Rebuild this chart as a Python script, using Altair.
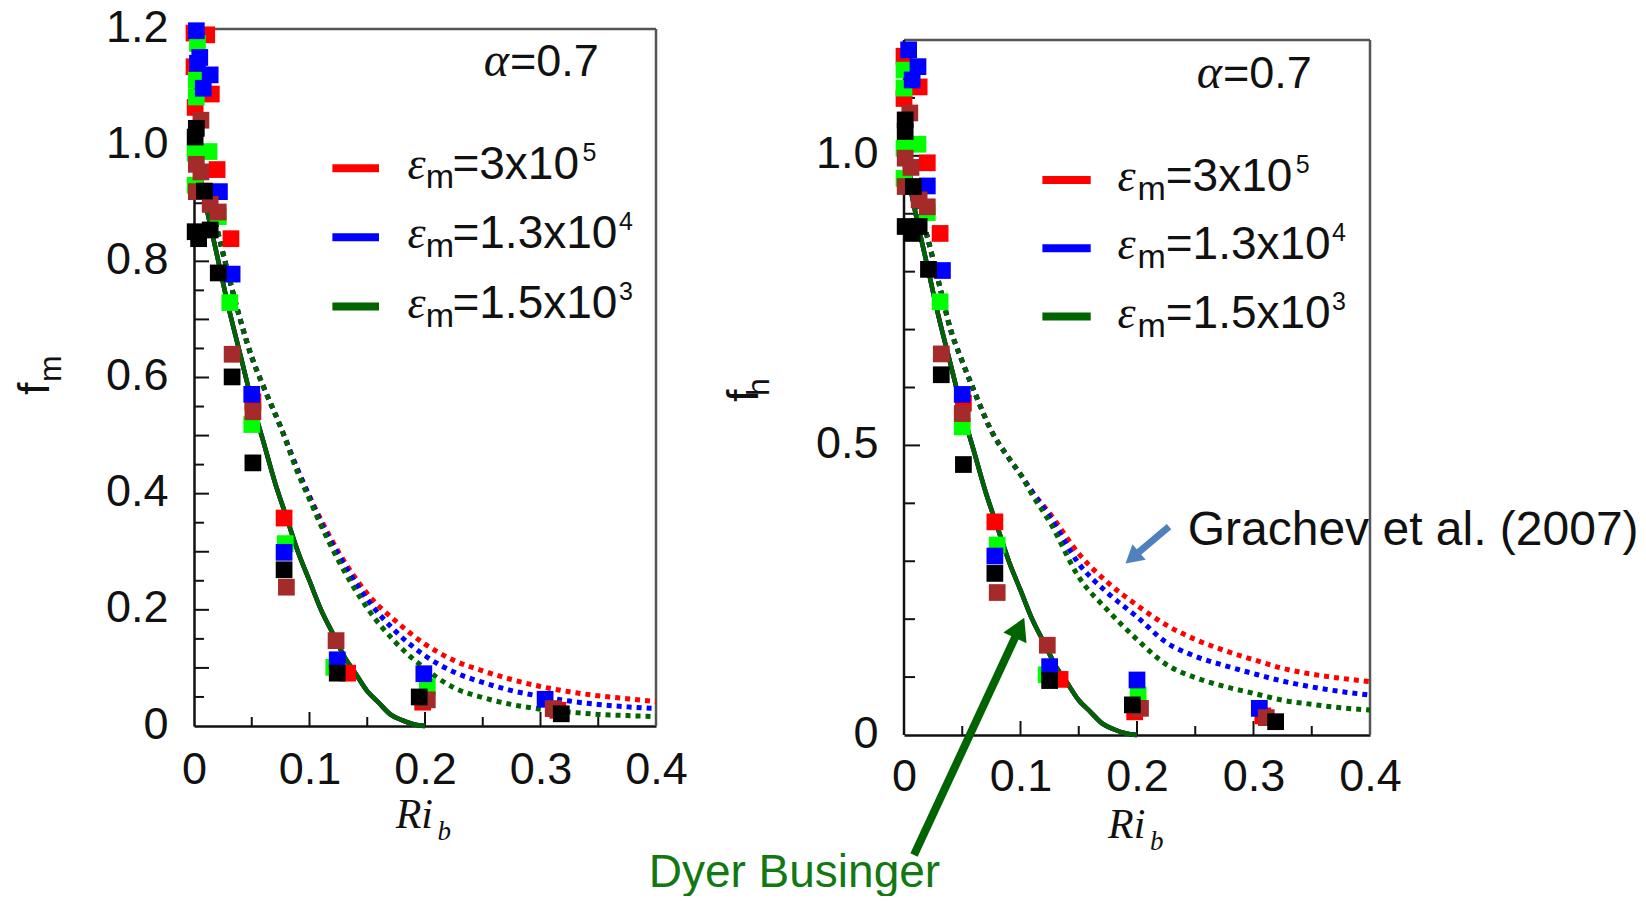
import altair as alt
import pandas as pd

# ---------------- data ----------------
RI_LABELS = [0.0, 0.1, 0.2, 0.3, 0.4]
RI_TICKS_MAJOR = [0.1, 0.2, 0.3]
RI_TICKS_MINOR = [0.05, 0.15, 0.25, 0.35]
FM_LABELS = [0.0, 0.2, 0.4, 0.6, 0.8, 1.0, 1.2]
FM_TICKS_MAJOR = [0.1, 0.2, 0.3, 0.4, 0.5, 0.6, 0.7, 0.8, 0.9, 1.0, 1.1]
FM_TICKS_MINOR = [0.05, 0.15, 0.25, 0.35, 0.45, 0.55, 0.65, 0.75, 0.85, 0.95, 1.05, 1.15]
FH_LABELS = [0.0, 0.5, 1.0]
FH_TICKS_MAJOR = [0.5, 1.0]
FH_TICKS_MINOR = [0.1, 0.2, 0.3, 0.4, 0.6, 0.7, 0.8, 0.9, 1.1]

LEGEND_MAIN = ["=3x10", "=1.3x10", "=1.5x10"]
LEGEND_EXP = ["5", "4", "3"]
LINE_COLORS = ["#FF0000", "#0000FF", "#006400"]

# Dyer-Businger (solid)
DB_RI = [0.0, 0.01, 0.02, 0.03, 0.04, 0.05, 0.06, 0.07, 0.08, 0.09, 0.10,
         0.11, 0.12, 0.13, 0.14, 0.15, 0.16, 0.17, 0.18, 0.19, 0.20]
DB_FM = [1.0, 0.90, 0.81, 0.72, 0.64, 0.56, 0.49, 0.42, 0.36, 0.30, 0.25,
         0.20, 0.16, 0.12, 0.09, 0.06, 0.04, 0.02, 0.01, 0.003, 0.0]
DB_FH = [1.0, 0.90, 0.81, 0.72, 0.64, 0.56, 0.49, 0.42, 0.36, 0.30, 0.25,
         0.20, 0.16, 0.12, 0.09, 0.06, 0.04, 0.02, 0.01, 0.003, 0.0]

# Grachev et al. (2007) (dotted)
GR_RI = [0.0, 0.01, 0.02, 0.03, 0.04, 0.05, 0.06, 0.075, 0.09, 0.10, 0.11, 0.125,
         0.15, 0.175, 0.20, 0.225, 0.25, 0.275, 0.30, 0.325, 0.35, 0.375, 0.40]
GR_FM_RED = [1.0, 0.93, 0.855, 0.775, 0.70, 0.635, 0.585, 0.515, 0.44, 0.395, 0.355, 0.30,
             0.228, 0.18, 0.141, 0.113, 0.095, 0.080, 0.068, 0.059, 0.052, 0.047, 0.042]
GR_FM_BLUE = [1.0, 0.93, 0.855, 0.775, 0.70, 0.635, 0.585, 0.515, 0.44, 0.395, 0.35, 0.295,
              0.218, 0.162, 0.121, 0.093, 0.075, 0.061, 0.051, 0.043, 0.037, 0.033, 0.030]
GR_FM_GREEN = [1.0, 0.93, 0.855, 0.775, 0.70, 0.635, 0.585, 0.515, 0.435, 0.39, 0.345, 0.285,
               0.203, 0.143, 0.099, 0.066, 0.049, 0.037, 0.029, 0.024, 0.020, 0.018, 0.016]
GR_FH_RED = [1.0, 0.93, 0.86, 0.78, 0.70, 0.645, 0.595, 0.525, 0.478, 0.45, 0.42, 0.383,
             0.313, 0.263, 0.224, 0.19, 0.165, 0.146, 0.130, 0.115, 0.105, 0.098, 0.092]
GR_FH_BLUE = [1.0, 0.93, 0.86, 0.78, 0.70, 0.645, 0.595, 0.525, 0.478, 0.45, 0.42, 0.378,
              0.296, 0.245, 0.204, 0.16, 0.136, 0.12, 0.106, 0.093, 0.083, 0.075, 0.069]
GR_FH_GREEN = [1.0, 0.93, 0.86, 0.78, 0.70, 0.645, 0.595, 0.525, 0.478, 0.45, 0.415, 0.368,
               0.273, 0.215, 0.165, 0.122, 0.099, 0.084, 0.072, 0.060, 0.053, 0.047, 0.043]

# Scatter squares, f_m panel
M_RED_RI = [0.0, 0.011, 0.0, 0.015, 0.001, 0.020, 0.032, 0.051, 0.078, 0.133, 0.198, 0.315]
M_RED_F = [1.193, 1.19, 1.135, 1.088, 1.065, 0.958, 0.839, 0.558, 0.358, 0.091, 0.041, 0.027]
M_GREEN_RI = [0.003, 0.002, 0.002, 0.001, 0.013, 0.001, 0.021, 0.031, 0.050, 0.079, 0.121, 0.202]
M_GREEN_F = [1.175, 1.112, 1.083, 0.986, 0.989, 0.931, 0.877, 0.729, 0.519, 0.314, 0.101, 0.068]
M_BLUE_RI = [0.002, 0.005, 0.003, 0.014, 0.008, 0.022, 0.033, 0.050, 0.078, 0.124, 0.199, 0.304]
M_BLUE_F = [1.197, 1.151, 1.141, 1.121, 1.098, 0.920, 0.778, 0.571, 0.299, 0.114, 0.090, 0.046]
M_BROWN_RI = [0.006, 0.002, 0.006, 0.002, 0.014, 0.021, 0.033, 0.051, 0.080, 0.123, 0.202, 0.311]
M_BROWN_F = [1.043, 0.967, 0.954, 0.920, 0.898, 0.885, 0.640, 0.541, 0.239, 0.147, 0.045, 0.030]
M_BLACK_RI = [0.002, 0.001, 0.009, 0.001, 0.004, 0.014, 0.021, 0.033, 0.051, 0.078, 0.124, 0.195, 0.318]
M_BLACK_F = [1.029, 1.014, 0.921, 0.851, 0.839, 0.854, 0.780, 0.601, 0.453, 0.269, 0.091, 0.050, 0.021]

# Scatter squares, f_h panel
H_RED_RI = [0.0, 0.013, 0.0, 0.020, 0.031, 0.051, 0.078, 0.134, 0.198, 0.308]
H_RED_F = [1.172, 1.119, 1.099, 0.988, 0.866, 0.573, 0.368, 0.096, 0.040, 0.033]
H_GREEN_RI = [0.0, 0.0, 0.012, 0.0, 0.0, 0.020, 0.031, 0.050, 0.080, 0.122, 0.201]
H_GREEN_F = [1.148, 1.117, 1.020, 1.013, 0.961, 0.902, 0.748, 0.532, 0.328, 0.104, 0.069]
H_BLUE_RI = [0.004, 0.012, 0.007, 0.020, 0.033, 0.050, 0.078, 0.125, 0.200, 0.305]
H_BLUE_F = [1.183, 1.154, 1.131, 0.948, 0.802, 0.588, 0.309, 0.118, 0.095, 0.046]
H_BROWN_RI = [0.005, 0.001, 0.006, 0.001, 0.013, 0.020, 0.032, 0.050, 0.080, 0.123, 0.203, 0.311]
H_BROWN_F = [1.074, 0.996, 0.980, 0.947, 0.924, 0.912, 0.658, 0.555, 0.246, 0.155, 0.046, 0.030]
H_BLACK_RI = [0.001, 0.001, 0.008, 0.001, 0.007, 0.013, 0.021, 0.032, 0.051, 0.078, 0.125, 0.196, 0.319]
H_BLACK_F = [1.062, 1.042, 0.947, 0.878, 0.866, 0.878, 0.804, 0.622, 0.467, 0.279, 0.094, 0.052, 0.023]

DOT_COLORS = ["#FF0000", "#00FF00", "#0000FF", "#A52A2A", "#000000"]

# ---------------- helpers ----------------
ONE = pd.DataFrame({"k": [0]})
SANS = "Liberation Sans, Arial, Helvetica, sans-serif"
SERIF = "Liberation Serif, Times New Roman, serif"
INK = "#111111"
LBL_EXPR = "datum.value == 0 ? '0' : format(datum.value, '.1f')"


def df(xs, ys):
    return pd.DataFrame({"x": xs, "y": ys})


def txt(s, x, y, size, font=SANS, color=INK, style="normal", align="left", angle=0):
    return alt.Chart(ONE).mark_text(
        text=s, fontSize=size, font=font, color=color, fontStyle=style,
        align=align, baseline="alphabetic", angle=angle
    ).encode(x=alt.value(x), y=alt.value(y))


def seg(x1, y1, x2, y2, color, width, opacity=1.0):
    return alt.Chart(ONE).mark_rule(color=color, strokeWidth=width, opacity=opacity).encode(
        x=alt.value(x1), y=alt.value(y1), x2=alt.value(x2), y2=alt.value(y2))


def head(x, y, angle, size, color):
    return alt.Chart(ONE).mark_point(shape="triangle-up", filled=True, size=size, angle=angle,
                                     color=color, opacity=1).encode(x=alt.value(x), y=alt.value(y))


def x_enc(pad):
    return alt.X("x:Q", scale=alt.Scale(domain=[0, 0.4], nice=False, zero=False),
                 axis=alt.Axis(values=RI_LABELS, labelExpr=LBL_EXPR, ticks=False, labelPadding=pad,
                               domain=True, domainColor=INK, domainWidth=2.5, labelFont=SANS,
                               labelFontSize=45, labelColor=INK, labelFlush=False,
                               labelOverlap=False, grid=False, title=None))


def y_enc(ymax, values, domain_line):
    return alt.Y("y:Q", scale=alt.Scale(domain=[0, ymax], nice=False, zero=False),
                 axis=alt.Axis(values=values, labelExpr=LBL_EXPR, ticks=False, labelPadding=26,
                               labelOffset=-2, domain=domain_line, domainColor=INK, domainWidth=2.5,
                               labelFont=SANS, labelFontSize=45, labelColor=INK, labelFlush=False,
                               labelOverlap=False, grid=False, title=None))


def panel(XE, YE, W, H, yticks_major, yticks_minor, ymaj_len, ymin_len,
          db, grs, dots, legend, alpha, ytitle, xtitle, left_line):
    L = []
    # frame (top and right borders)
    L.append(alt.Chart(pd.DataFrame({"x": [0.0], "x2": [0.4], "y": [1.2]})).mark_rule(
        color="#555555", strokeWidth=2.5).encode(x=XE, x2="x2", y=YE))
    L.append(alt.Chart(pd.DataFrame({"x": [0.4], "y": [0.0], "y2": [1.2]})).mark_rule(
        color="#555555", strokeWidth=2.5).encode(x=XE, y=YE, y2="y2"))
    if left_line:
        L.append(alt.Chart(pd.DataFrame({"x": [0.0], "y": [0.0], "y2": [1.2]})).mark_rule(
            color=INK, strokeWidth=2.5).encode(x=XE, y=YE, y2="y2"))
    # inward ticks
    L.append(alt.Chart(pd.DataFrame({"x": RI_TICKS_MAJOR})).mark_rule(color=INK, strokeWidth=2).encode(
        x=XE, y=alt.value(H), y2=alt.value(H - 14)))
    L.append(alt.Chart(pd.DataFrame({"x": RI_TICKS_MINOR})).mark_rule(color=INK, strokeWidth=2).encode(
        x=XE, y=alt.value(H), y2=alt.value(H - 9)))
    L.append(alt.Chart(pd.DataFrame({"y": yticks_major})).mark_rule(color=INK, strokeWidth=2).encode(
        y=YE, x=alt.value(0), x2=alt.value(ymaj_len)))
    L.append(alt.Chart(pd.DataFrame({"y": yticks_minor})).mark_rule(color=INK, strokeWidth=2).encode(
        y=YE, x=alt.value(0), x2=alt.value(ymin_len)))
    # Grachev dotted curves
    for ys, c in zip(grs, LINE_COLORS):
        L.append(alt.Chart(df(GR_RI, ys)).mark_line(color=c, strokeWidth=5, strokeDash=[5, 5],
                                                     interpolate="monotone").encode(x=XE, y=YE))
    # Dyer-Businger solid
    for c in LINE_COLORS:
        L.append(alt.Chart(df(DB_RI, db)).mark_line(color=c, strokeWidth=4.5,
                                                    interpolate="monotone").encode(x=XE, y=YE))
    # squares
    for (xs, ys), c in zip(dots, DOT_COLORS):
        L.append(alt.Chart(df(xs, ys)).mark_square(size=280, color=c, opacity=1).encode(x=XE, y=YE))
    # legend
    sx1, sx2, rows, ex, mx, tx, supx = legend
    for i, yr in enumerate(rows):
        L.append(seg(sx1, yr, sx2, yr, LINE_COLORS[i], 8))
        L.append(txt("\u03b5", ex, yr + 11, 46, font=SERIF, style="italic"))
        L.append(txt("m", mx, yr + 20, 34))
        L.append(txt(LEGEND_MAIN[i], tx, yr + 11, 46))
        L.append(txt(LEGEND_EXP[i], supx[i], yr - 7, 25))
    # alpha
    ax, ay = alpha
    L.append(txt("\u03b1", ax, ay, 48, font=SERIF, style="italic", align="right"))
    L.append(txt("=0.7", ax + 1, ay, 45))
    # axis titles
    (fx, fy, sub, subx, suby) = ytitle
    L.append(txt("f", fx, fy, 45, angle=270))
    L.append(txt(sub, subx, suby, 32, angle=270))
    (rx, ry, bx, by) = xtitle
    L.append(txt("Ri", rx, ry, 42, font=SERIF, style="italic"))
    L.append(txt("b", bx, by, 27, font=SERIF, style="italic"))
    return L


# ---------------- left panel (f_m) ----------------
WL, HL = 462, 697
XL = x_enc(21)
YL = y_enc(1.2, FM_LABELS, True)
left_layers = [seg(-193.3, -28.5, -180, -28.5, "#ffffff", 1, 0)]
left_layers += panel(
    XL, YL, WL, HL, FM_TICKS_MAJOR, FM_TICKS_MINOR, 15, 10,
    DB_FM, [GR_FM_RED, GR_FM_BLUE, GR_FM_GREEN],
    [(M_RED_RI, M_RED_F), (M_GREEN_RI, M_GREEN_F), (M_BLUE_RI, M_BLUE_F),
     (M_BROWN_RI, M_BROWN_F), (M_BLACK_RI, M_BLACK_F)],
    (138.4, 185, [139.3, 208.3, 277.5], 213.4, 231.7, 258.4, [388.4, 425, 425]),
    (315, 47),
    (-145.3, 366, "m", -133.3, 353),
    (201.7, 799.3, 243.4, 811),
    False,
)
left = alt.layer(*left_layers).properties(width=WL, height=HL)

# ---------------- right panel (f_h) ----------------
WR, HR = 466, 706
XR = x_enc(19.5)
YR = y_enc(1.219, FH_LABELS, False)
right_layers = panel(
    XR, YR, WR, HR, FH_TICKS_MAJOR, FH_TICKS_MINOR, 16, 11,
    DB_FH, [GR_FH_RED, GR_FH_BLUE, GR_FH_GREEN],
    [(H_RED_RI, H_RED_F), (H_GREEN_RI, H_GREEN_F), (H_BLUE_RI, H_BLUE_F),
     (H_BROWN_RI, H_BROWN_F), (H_BLACK_RI, H_BLACK_F)],
    (138.4, 186.7, [151, 219.3, 287.5], 213.4, 233.4, 261.7, [391.7, 428, 428]),
    (318, 59),
    (-146.3, 373, "h", -135.3, 367),
    (204, 809, 246, 821),
    True,
)
# annotations
right_layers.append(txt("Grachev et al. (2007)", 283.7, 516, 48))
right_layers.append(seg(265, 497.7, 228.3, 528.7, "#4F81BD", 7))
right_layers.append(head(228.3, 528.7, 229.8, 420, "#4F81BD"))
right_layers.append(seg(10, 826, 115.6, 598.8, "#006400", 8))
right_layers.append(head(115.6, 598.8, 24.9, 650, "#006400"))
right_layers.append(txt("Dyer Businger", -255.3, 857.7, 46, color="#127812"))
right = alt.layer(*right_layers).properties(width=WR, height=HR)

chart = alt.hconcat(left, right, spacing=248, bounds="flush", padding=0).configure_view(
    stroke=None).configure_axis(grid=False)

chart.save("out.html", embed_options={"renderer": "svg", "actions": False})
